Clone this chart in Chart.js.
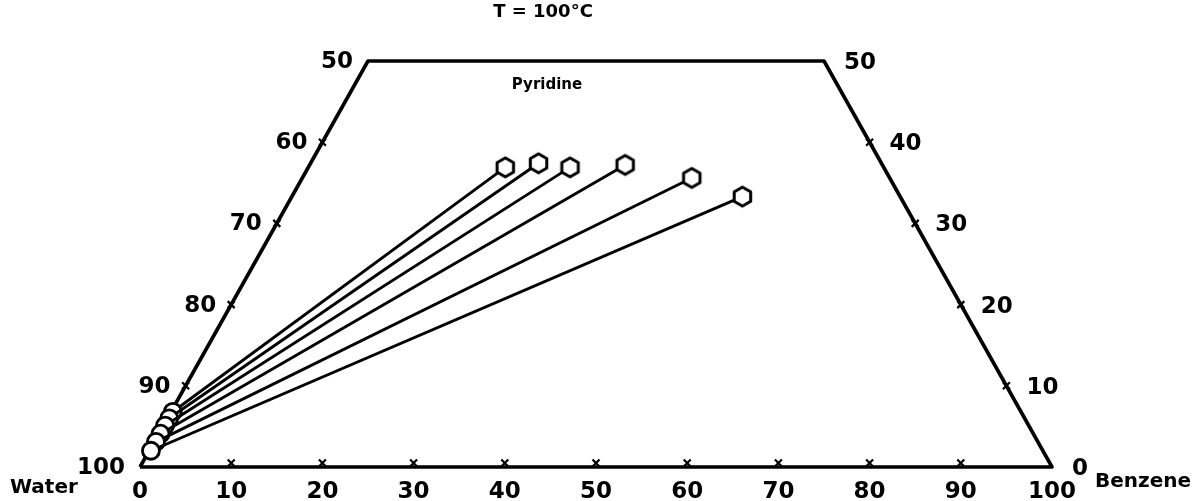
<!DOCTYPE html>
<html>
<head>
<meta charset="utf-8">
<script src="https://cdn.jsdelivr.net/npm/chart.js@4.4.1/dist/chart.umd.min.js"></script>
<style>
  html, body { margin: 0; padding: 0; background: #fff; }
</style>
</head>
<body>
<canvas id="ternaryChart" width="1197" height="501"></canvas>
<script>
// Tie lines, compositions in weight % (water = 100 - benzene - pyridine)
var benzeneRichBenzene  = [21.6, 25.0, 28.7, 34.6, 42.7, 49.4];
var benzeneRichPyridine = [36.9, 37.4, 36.9, 37.2, 35.6, 33.3];
var waterRichBenzene    = [0.2, 0.2, 0.2, 0.2, 0.2, 0.2];
var waterRichPyridine   = [6.8, 6.0, 5.1, 4.1, 3.1, 2.0];

// Axis tick labels
var benzeneTicks  = [0, 10, 20, 30, 40, 50, 60, 70, 80, 90, 100];
var waterTicks    = [50, 60, 70, 80, 90, 100];
var pyridineTicks = [0, 10, 20, 30, 40, 50];

// Ternary (benzene, pyridine) -> cartesian x/y for the plot
function toXY(benzene, pyridine) {
    return { x: benzene + pyridine / 2, y: pyridine };
}

// hexagon marker for the benzene-rich ends
function makeHexagon(r) {
    var c = document.createElement('canvas');
    var size = Math.ceil(r * 2 + 6);
    c.width = size;
    c.height = size;
    var g = c.getContext('2d');
    g.beginPath();
    for (var i = 0; i < 6; i++) {
        var a = Math.PI / 6 + i * Math.PI / 3;
        var px = size / 2 + r * Math.cos(a);
        var py = size / 2 + r * Math.sin(a);
        if (i === 0) g.moveTo(px, py); else g.lineTo(px, py);
    }
    g.closePath();
    g.fillStyle = '#fff';
    g.fill();
    g.lineWidth = 3;
    g.lineJoin = 'round';
    g.strokeStyle = '#000';
    g.stroke();
    return c;
}
var hexMarker = makeHexagon(9.5);

var datasets = [];

// outline of the truncated triangle (pyridine up to 50 %)
datasets.push({
    label: 'outline',
    data: [toXY(0, 0), toXY(0, 50), toXY(50, 50), toXY(100, 0), toXY(0, 0)],
    showLine: true,
    borderColor: '#000',
    borderWidth: 3.6,
    pointRadius: 0,
    borderJoinStyle: 'round',
    order: 20
});

for (var i = 0; i < benzeneRichBenzene.length; i++) {
    datasets.push({
        label: 'tie ' + (i + 1),
        data: [
            toXY(waterRichBenzene[i], waterRichPyridine[i]),
            toXY(benzeneRichBenzene[i], benzeneRichPyridine[i])
        ],
        showLine: true,
        borderColor: '#000',
        borderWidth: 2.9,
        pointStyle: ['circle', hexMarker],
        pointRadius: 8.5,
        pointBorderWidth: 2.8,
        pointBackgroundColor: '#fff',
        pointBorderColor: '#000',
        order: 10 - i
    });
}

// tick marks and all the lettering
var labelsPlugin = {
    id: 'ternaryLabels',
    afterDatasetsDraw: function(chart) {
        var ctx = chart.ctx;
        var xs = chart.scales.x;
        var ys = chart.scales.y;
        function pix(b, p) {
            var q = toXY(b, p);
            return { x: xs.getPixelForValue(q.x), y: ys.getPixelForValue(q.y) };
        }
        function cross(x, y, s) {
            ctx.beginPath();
            ctx.moveTo(x - s, y - s); ctx.lineTo(x + s, y + s);
            ctx.moveTo(x + s, y - s); ctx.lineTo(x - s, y + s);
            ctx.stroke();
        }

        ctx.save();
        ctx.strokeStyle = '#000';
        ctx.lineWidth = 2.2;
        ctx.fillStyle = '#000';

        var numFont = 'bold 23px "DejaVu Sans", sans-serif';

        // bottom axis: benzene
        ctx.font = numFont;
        ctx.textAlign = 'center';
        ctx.textBaseline = 'middle';
        benzeneTicks.forEach(function(v) {
            var pt = pix(v, 0);
            if (v > 0 && v < 100) cross(pt.x, pt.y - 4, 3.5);
            ctx.fillText(String(v), pt.x, pt.y + 25);
        });

        // left edge: water
        ctx.textAlign = 'right';
        waterTicks.forEach(function(v) {
            var pt = pix(0, 100 - v);
            if (v > 50 && v < 100) cross(pt.x, pt.y, 3.5);
            ctx.fillText(String(v), pt.x - 15, pt.y + 1);
        });

        // right edge: pyridine
        ctx.textAlign = 'left';
        pyridineTicks.forEach(function(v) {
            var pt = pix(100 - v, v);
            if (v > 0 && v < 50) cross(pt.x, pt.y, 3.5);
            ctx.fillText(String(v), pt.x + 20, pt.y + 2);
        });

        // component names and title
        ctx.font = 'bold 20px "DejaVu Sans", sans-serif';
        ctx.textAlign = 'left';
        var corner0 = pix(0, 0);
        var corner100 = pix(100, 0);
        ctx.fillText('Water', corner0.x - 130, corner0.y + 21);
        ctx.fillText('Benzene', corner100.x + 43, corner100.y + 15);

        ctx.textAlign = 'center';
        ctx.font = 'bold 15px "DejaVu Sans", sans-serif';
        var top = pix(0, 50);
        ctx.fillText('Pyridine', 547, top.y + 24);
        ctx.font = 'bold 18px "DejaVu Sans", sans-serif';
        ctx.fillText('T = 100\u00B0C', 543, 12);
        ctx.restore();
    }
};

var ctx = document.getElementById('ternaryChart').getContext('2d');
var ternaryChart = new Chart(ctx, {
    type: 'scatter',
    data: { datasets: datasets },
    options: {
        responsive: false,
        animation: false,
        clip: false,
        layout: {
            padding: { left: 140, right: 145, top: 61, bottom: 34 }
        },
        scales: {
            x: { type: 'linear', min: 0, max: 100, display: false },
            y: { type: 'linear', min: 0, max: 50, display: false }
        },
        plugins: {
            legend: { display: false },
            tooltip: { enabled: false }
        }
    },
    plugins: [labelsPlugin]
});
</script>
</body>
</html>
